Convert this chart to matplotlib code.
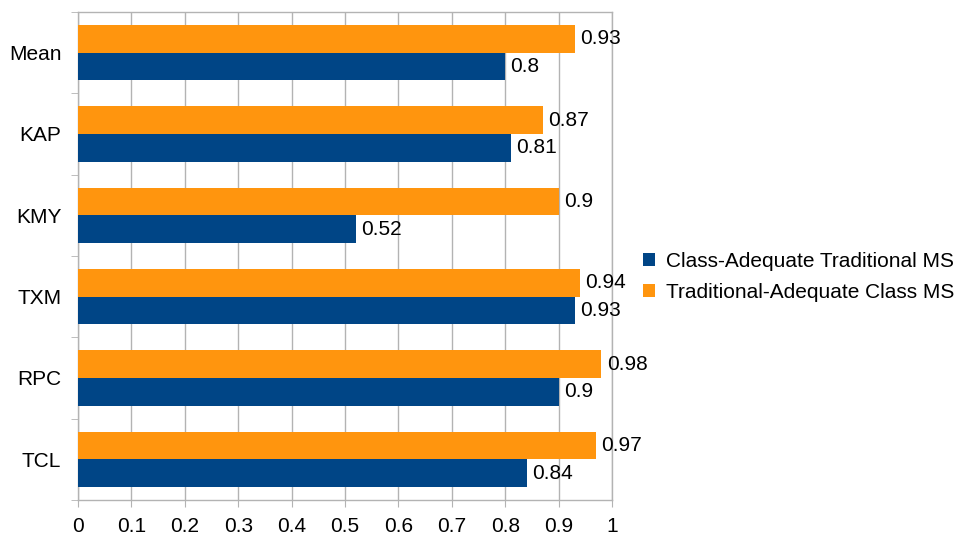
import matplotlib
matplotlib.use("Agg")
import matplotlib.pyplot as plt
import numpy as np

plt.rcParams['font.family'] = ['Liberation Sans', 'DejaVu Sans']

categories = ["TCL", "RPC", "TXM", "KMY", "KAP", "Mean"]
class_adequate = [0.84, 0.9, 0.93, 0.52, 0.81, 0.8]
traditional_adequate = [0.97, 0.98, 0.94, 0.9, 0.87, 0.93]
series_names = ["Class-Adequate Traditional MS", "Traditional-Adequate Class MS"]
xticks = np.arange(0, 1.01, 0.1)

blue = "#004586"
orange = "#ff950e"
grid_col = "#b3b3b3"
fs = 15

fig = plt.figure(figsize=(9.57, 5.41), dpi=100)
ax = fig.add_axes([0.0815, 0.076, 0.558, 0.902])

y = np.arange(len(categories))
h = 0.34
b1 = ax.barh(y - h / 2, class_adequate, height=h, color=blue, label=series_names[0], zorder=3)
b2 = ax.barh(y + h / 2, traditional_adequate, height=h, color=orange, label=series_names[1], zorder=3)

for bars, vals in ((b1, class_adequate), (b2, traditional_adequate)):
    for bar, v in zip(bars, vals):
        ax.text(v + 0.01, bar.get_y() + bar.get_height() / 2, f"{v:g}",
                va="center", ha="left", fontsize=fs, zorder=4)

ax.set_xlim(0, 1)
ax.set_ylim(-0.5, len(categories) - 0.5)
ax.set_xticks(xticks)
ax.set_xticklabels([f"{t:g}" for t in xticks], fontsize=fs)
ax.set_yticks(y)
ax.set_yticklabels(categories, fontsize=fs)
ax.set_yticks(np.arange(-0.5, len(categories)), minor=True)
ax.tick_params(axis="y", which="major", length=0, pad=12)
ax.tick_params(axis="y", which="minor", length=5, color=grid_col)
ax.tick_params(axis="x", length=5, color=grid_col, pad=7)

ax.grid(axis="x", color=grid_col, linewidth=1, zorder=0)
for s in ax.spines.values():
    s.set_color(grid_col)
    s.set_linewidth(1)

ax.legend(handles=[b1, b2], loc="center left", bbox_to_anchor=(1.03, 0.457),
          frameon=False, fontsize=fs, handlelength=0.6, handleheight=0.6,
          handletextpad=0.5, labelspacing=0.55, borderpad=0.2)

fig.savefig("out.png", dpi=100)
